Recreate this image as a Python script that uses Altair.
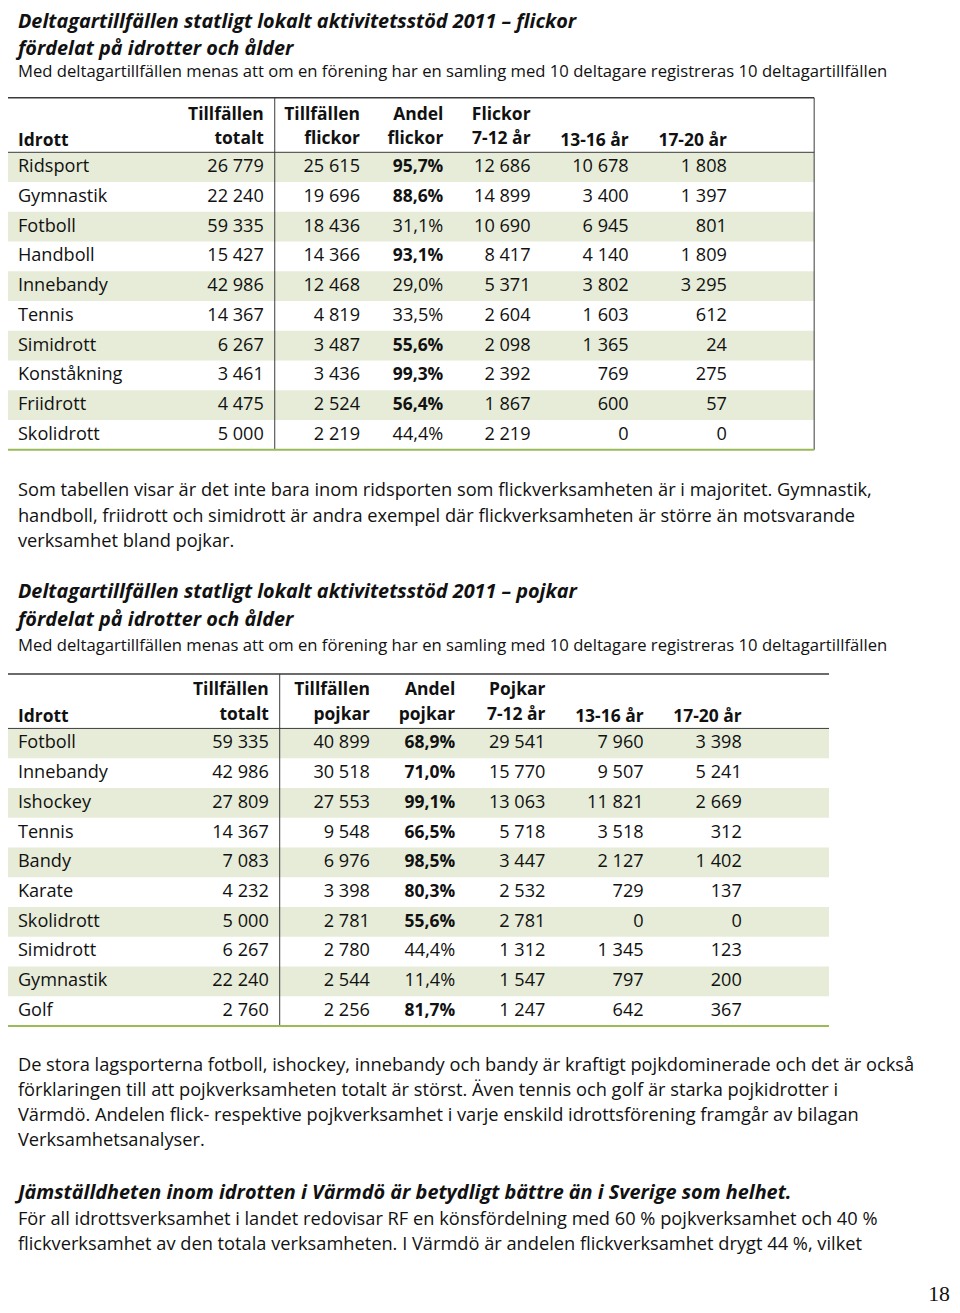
import altair as alt
import pandas as pd

# ---------------- data ----------------
f_sport = ["Ridsport", "Gymnastik", "Fotboll", "Handboll", "Innebandy", "Tennis",
           "Simidrott", "Konståkning", "Friidrott", "Skolidrott"]
f_totalt = [26779, 22240, 59335, 15427, 42986, 14367, 6267, 3461, 4475, 5000]
f_flickor = [25615, 19696, 18436, 14366, 12468, 4819, 3487, 3436, 2524, 2219]
f_andel = [95.7, 88.6, 31.1, 93.1, 29.0, 33.5, 55.6, 99.3, 56.4, 44.4]
f_7_12 = [12686, 14899, 10690, 8417, 5371, 2604, 2098, 2392, 1867, 2219]
f_13_16 = [10678, 3400, 6945, 4140, 3802, 1603, 1365, 769, 600, 0]
f_17_20 = [1808, 1397, 801, 1809, 3295, 612, 24, 275, 57, 0]

p_sport = ["Fotboll", "Innebandy", "Ishockey", "Tennis", "Bandy", "Karate",
           "Skolidrott", "Simidrott", "Gymnastik", "Golf"]
p_totalt = [59335, 42986, 27809, 14367, 7083, 4232, 5000, 6267, 22240, 2760]
p_pojkar = [40899, 30518, 27553, 9548, 6976, 3398, 2781, 2780, 2544, 2256]
p_andel = [68.9, 71.0, 99.1, 66.5, 98.5, 80.3, 55.6, 44.4, 11.4, 81.7]
p_7_12 = [29541, 15770, 13063, 5718, 3447, 2532, 2781, 1312, 1547, 1247]
p_13_16 = [7960, 9507, 11821, 3518, 2127, 729, 0, 1345, 797, 642]
p_17_20 = [3398, 5241, 2669, 312, 1402, 137, 0, 123, 200, 367]

f_head1 = ["Tillfällen", "Tillfällen", "Andel", "Flickor", "", ""]
f_head2 = ["totalt", "flickor", "flickor", "7-12 år", "13-16 år", "17-20 år"]
p_head1 = ["Tillfällen", "Tillfällen", "Andel", "Pojkar", "", ""]
p_head2 = ["totalt", "pojkar", "pojkar", "7-12 år", "13-16 år", "17-20 år"]
head_first = "Idrott"

title1 = ["Deltagartillfällen statligt lokalt aktivitetsstöd 2011 – flickor",
          "fördelat på idrotter och ålder"]
title2 = ["Deltagartillfällen statligt lokalt aktivitetsstöd 2011 – pojkar",
          "fördelat på idrotter och ålder"]
subtitle = ("Med deltagartillfällen menas att om en förening har en samling med 10 "
            "deltagare registreras 10 deltagartillfällen")
para1 = ["Som tabellen visar är det inte bara inom ridsporten som flickverksamheten är i majoritet. Gymnastik,",
         "handboll, friidrott och simidrott är andra exempel där flickverksamheten är större än motsvarande",
         "verksamhet bland pojkar."]
para2 = ["De stora lagsporterna fotboll, ishockey, innebandy och bandy är kraftigt pojkdominerade och det är också",
         "förklaringen till att pojkverksamheten totalt är störst. Även tennis och golf är starka pojkidrotter i",
         "Värmdö. Andelen flick- respektive pojkverksamhet i varje enskild idrottsförening framgår av bilagan",
         "Verksamhetsanalyser."]
heading3 = "Jämställdheten inom idrotten i Värmdö är betydligt bättre än i Sverige som helhet."
para3 = ["För all idrottsverksamhet i landet redovisar RF en könsfördelning med 60 % pojkverksamhet och 40 %",
         "flickverksamhet av den totala verksamheten. I Värmdö är andelen flickverksamhet drygt 44 %, vilket"]
page_no = "18"

# ---------------- layout (page pixel coordinates, y = text baseline) ----------------
FONT = "Open Sans"
BODY = 18.4
SUB = 16.8
TITLE = 20.0
TAB = 18.3
TAB_B = 17.6
LEFT = 18

T1 = dict(top=93, head_bot=148, row0=148, left=8, right=821, vline=277,
          cols=[266, 363, 447, 535, 634, 733], h1=115, h2=140, base0=168, border=True)
T2 = dict(top=674, head_bot=729, row0=729, left=8, right=836, vline=282,
          cols=[271, 373, 459, 550, 649, 748], h1=695, h2=721, base0=749, border=False)
ROW_H = 30
BAND = "#e6ecd8"
GREEN = "#9bbb59"
DARK = "#3a3a3a"

def num(v):
    return f"{v:,}".replace(",", " ")

def pct(v):
    return f"{v:.1f}".replace(".", ",") + "%"

texts = []
rules = []
rects = []

def add_text(x, y, s, align="left", weight="normal", style="normal", size=BODY, font=FONT):
    if s == "":
        return
    texts.append(dict(x=x, y=y, t=s, align=align, weight=weight, style=style, size=size, font=font))

def add_table(T, sports, cols_data, andel, head1, head2):
    add_text(LEFT, T["h2"] + 1.5, head_first, weight="bold", size=TAB_B)
    for j, (a, b) in enumerate(zip(head1, head2)):
        yb = T["h2"] + (2 if j >= 4 else 0)
        add_text(T["cols"][j], T["h1"], a, align="right", weight="bold", size=TAB_B)
        add_text(T["cols"][j], yb, b, align="right", weight="bold", size=TAB_B)
    n = len(sports)
    for i in range(n):
        yb = T["base0"] + ROW_H * i
        if i % 2 == 0:
            rects.append(dict(x=T["left"], x2=T["right"], y=T["row0"] + ROW_H * i,
                              y2=T["row0"] + ROW_H * (i + 1)))
        add_text(LEFT, yb, sports[i], size=TAB)
        vals = [num(cols_data[0][i]), num(cols_data[1][i]), pct(andel[i]),
                num(cols_data[2][i]), num(cols_data[3][i]), num(cols_data[4][i])]
        for j, s in enumerate(vals):
            w = "bold" if (j == 2 and andel[i] > 50) else "normal"
            add_text(T["cols"][j], yb, s, align="right", weight=w,
                     size=(TAB_B if w == "bold" else TAB))
    bottom = T["row0"] + ROW_H * n
    rules.append(dict(x=T["left"], x2=T["right"], y=T["top"], y2=T["top"], c=DARK, w=1.5))
    rules.append(dict(x=T["left"], x2=T["right"], y=T["head_bot"], y2=T["head_bot"], c=DARK, w=1.0))
    rules.append(dict(x=T["vline"], x2=T["vline"], y=T["top"], y2=bottom, c=DARK, w=1.0))
    if T["border"]:
        rules.append(dict(x=T["right"], x2=T["right"], y=T["top"], y2=bottom, c=DARK, w=1.0))
    rules.append(dict(x=T["left"], x2=T["right"], y=bottom, y2=bottom, c=GREEN, w=2.0))

# section 1
add_text(LEFT, 23, title1[0], weight="bold", style="italic", size=TITLE)
add_text(LEFT, 49.5, title1[1], weight="bold", style="italic", size=TITLE)
add_text(LEFT, 72.5, subtitle, size=SUB)
add_table(T1, f_sport, [f_totalt, f_flickor, f_7_12, f_13_16, f_17_20], f_andel, f_head1, f_head2)
for k, line in enumerate(para1):
    add_text(LEFT, 495 + 25.5 * k, line)

# section 2
add_text(LEFT, 597.5, title2[0], weight="bold", style="italic", size=TITLE)
add_text(LEFT, 625.5, title2[1], weight="bold", style="italic", size=TITLE)
add_text(LEFT, 650.5, subtitle, size=SUB)
add_table(T2, p_sport, [p_totalt, p_pojkar, p_7_12, p_13_16, p_17_20], p_andel, p_head1, p_head2)
for k, line in enumerate(para2):
    add_text(LEFT, 1074 + 25.4 * k, line)

add_text(LEFT, 1204, heading3, weight="bold", style="italic", size=TITLE)
for k, line in enumerate(para3):
    add_text(LEFT, 1229.5 + 25.3 * k, line)
add_text(958, 1306.5, page_no, align="right", size=22, font="Liberation Serif")

# ---------------- chart ----------------
xs = alt.Scale(domain=[8, 960], nice=False, zero=False)
ys = alt.Scale(domain=[8, 1313], reverse=True, nice=False, zero=False)

rect_df = pd.DataFrame(rects)
rule_df = pd.DataFrame(rules)
text_df = pd.DataFrame(texts)

band = alt.Chart(rect_df).mark_rect(color=BAND).encode(
    x=alt.X("x:Q", scale=xs, axis=None), x2="x2:Q",
    y=alt.Y("y:Q", scale=ys, axis=None), y2="y2:Q")

lines = alt.Chart(rule_df).mark_rule().encode(
    x=alt.X("x:Q", scale=xs, axis=None), x2="x2:Q",
    y=alt.Y("y:Q", scale=ys, axis=None), y2="y2:Q",
    color=alt.Color("c:N", scale=None),
    strokeWidth=alt.StrokeWidth("w:Q", scale=None))

layers = [band, lines]
for (align, weight, style, size, font), g in text_df.groupby(["align", "weight", "style", "size", "font"]):
    layers.append(
        alt.Chart(g.reset_index(drop=True)).mark_text(
            align=align, baseline="alphabetic", fontWeight=weight, fontStyle=style,
            fontSize=float(size), font=font, color="#111111"
        ).encode(
            x=alt.X("x:Q", scale=xs, axis=None),
            y=alt.Y("y:Q", scale=ys, axis=None),
            text="t:N")
    )

chart = alt.layer(*layers).properties(
    width=952, height=1305,
    autosize=alt.AutoSizeParams(type="none"),
    padding=0,
    background="white",
).configure_view(stroke=None)

chart.save("out.html", embed_options={"renderer": "svg", "actions": False})
